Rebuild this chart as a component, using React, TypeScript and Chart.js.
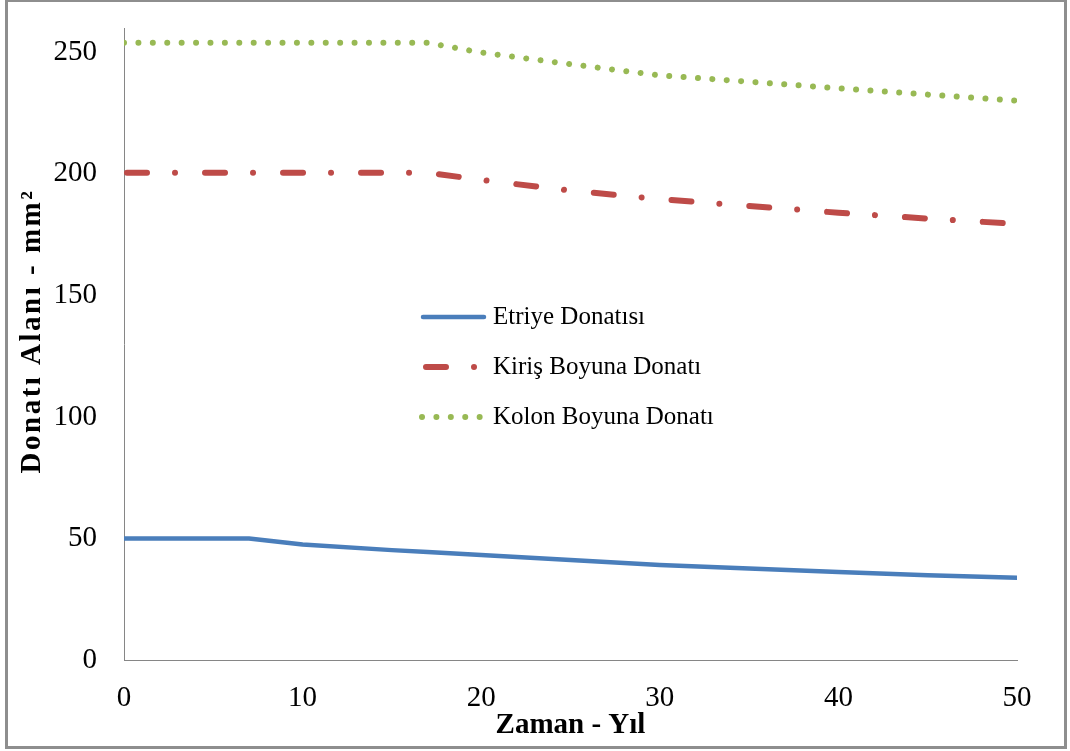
import { useEffect, useRef } from "react";
import { Chart, registerables } from "chart.js";

Chart.register(...registerables);

// ---- data ----
const years = [0, 5, 7, 10, 15, 17, 20, 25, 30, 35, 40, 45, 50];
const etriye = [50, 50, 50, 47.5, 45.2, 44.4, 43.2, 41.1, 39.1, 37.6, 36.2, 34.9, 33.8];
const kirisBoyuna = [200.5, 200.5, 200.5, 200.5, 200.5, 200.5, 197.5, 193.1, 189.6, 186.8, 184, 181.6, 179.4];
const kolonBoyuna = [253.9, 253.9, 253.9, 253.9, 253.9, 253.9, 249.9, 245.1, 240.5, 237.9, 235.2, 232.6, 230.1];
const seriesLabels = ["Etriye Donatısı", "Kiriş Boyuna Donatı", "Kolon Boyuna Donatı"];
const xTickValues = [0, 10, 20, 30, 40, 50];
const yTickValues = [0, 50, 100, 150, 200, 250];
const xTitle = "Zaman - Yıl";
const yTitle = "Donatı Alanı - mm²";

const FONT = "'Liberation Serif', 'Times New Roman', serif";

const inlineLegend = {
  id: "inlineLegend",
  afterDatasetsDraw(chart: any) {
    const ctx = chart.ctx;
    const x0 = 423;
    const x1 = 484;
    chart.data.datasets.forEach((ds: any, i: number) => {
      const y = 317 + i * 50;
      ctx.save();
      ctx.strokeStyle = ds.borderColor;
      ctx.lineWidth = ds.borderWidth;
      ctx.lineCap = "round";
      ctx.setLineDash(ds.borderDash || []);
      ctx.lineDashOffset = ds.borderDashOffset || 0;
      ctx.beginPath();
      ctx.moveTo(x0 - (i === 2 ? 1 : 0), y);
      ctx.lineTo(x1, y);
      ctx.stroke();
      ctx.setLineDash([]);
      ctx.fillStyle = "#000";
      ctx.font = `25px ${FONT}`;
      ctx.textBaseline = "middle";
      ctx.textAlign = "left";
      ctx.fillText(ds.label, 493, y);
      ctx.restore();
    });
  },
};

const yAxisTitle = {
  id: "yAxisTitle",
  afterDraw(chart: any) {
    const ctx = chart.ctx;
    ctx.save();
    ctx.translate(33, 331);
    ctx.rotate(-Math.PI / 2);
    ctx.fillStyle = "#000";
    ctx.font = `bold 29px ${FONT}`;
    try {
      (ctx as any).letterSpacing = "2.5px";
    } catch (e) {}
    ctx.textAlign = "center";
    ctx.textBaseline = "middle";
    ctx.fillText(yTitle, 0, 0);
    ctx.restore();
  },
};

export default function App() {
  const ref = useRef<HTMLCanvasElement | null>(null);

  useEffect(() => {
    document.body.style.margin = "0";
    if (!ref.current) return;
    const mk = (vals: number[]) => years.map((x, i) => ({ x, y: vals[i] }));
    const chart = new Chart(ref.current, {
      type: "line",
      data: {
        datasets: [
          {
            label: seriesLabels[0],
            data: mk(etriye),
            borderColor: "#4A7EBB",
            borderWidth: 4.5,
            borderCapStyle: "round",
            borderJoinStyle: "round",
            pointRadius: 0,
            tension: 0,
          },
          {
            label: seriesLabels[1],
            data: mk(kirisBoyuna),
            borderColor: "#BE4B48",
            borderWidth: 6,
            borderDash: [20, 28, 0.01, 30],
            borderDashOffset: -3,
            borderCapStyle: "round",
            borderJoinStyle: "round",
            pointRadius: 0,
            tension: 0,
          },
          {
            label: seriesLabels[2],
            data: mk(kolonBoyuna),
            borderColor: "#98B954",
            borderWidth: 6,
            borderDash: [0.01, 14.4],
            borderCapStyle: "round",
            borderJoinStyle: "round",
            pointRadius: 0,
            tension: 0,
          },
        ],
      },
      options: {
        animation: false,
        responsive: false,
        maintainAspectRatio: false,
        layout: { padding: { top: 28, right: 53, left: 0, bottom: 0 } },
        plugins: {
          legend: { display: false },
          tooltip: { enabled: false },
        },
        scales: {
          x: {
            type: "linear",
            min: 0,
            max: 50,
            afterFit: (s: any) => {
              s.height = 91;
              s.paddingLeft = 0;
              s.paddingRight = 0;
            },
            afterBuildTicks: (s: any) => {
              s.ticks = xTickValues.map((v) => ({ value: v }));
            },
            grid: { display: true, drawOnChartArea: false, drawTicks: false },
            border: { display: true, color: "#868686", width: 1 },
            ticks: {
              color: "#000",
              font: { family: FONT, size: 29 },
              padding: 21,
              maxRotation: 0,
            },
            title: {
              display: true,
              text: xTitle,
              color: "#000",
              font: { family: FONT, size: 29, weight: "bold" },
              padding: { top: 0, bottom: 8 },
            },
          },
          y: {
            type: "linear",
            min: 0,
            max: 260,
            afterFit: (s: any) => {
              s.width = 124;
              s.paddingTop = 0;
              s.paddingBottom = 0;
            },
            afterBuildTicks: (s: any) => {
              s.ticks = yTickValues.map((v) => ({ value: v }));
            },
            grid: { display: true, drawOnChartArea: false, drawTicks: false },
            border: { display: true, color: "#868686", width: 1 },
            ticks: {
              color: "#000",
              font: { family: FONT, size: 29 },
              padding: 27,
            },
            title: { display: false },
          },
        },
      },
      plugins: [inlineLegend, yAxisTitle],
    } as any);
    return () => chart.destroy();
  }, []);

  return (
    <div style={{ position: "relative", width: 1070, height: 751, background: "#fff", overflow: "hidden" }}>
      <canvas ref={ref} width={1070} height={751} style={{ display: "block", width: 1070, height: 751 }} />
      <div
        style={{
          position: "absolute",
          left: 5,
          top: -1,
          width: 1062,
          height: 750,
          border: "3px solid #8e8e8e",
          boxSizing: "border-box",
          pointerEvents: "none",
        }}
      />
    </div>
  );
}
